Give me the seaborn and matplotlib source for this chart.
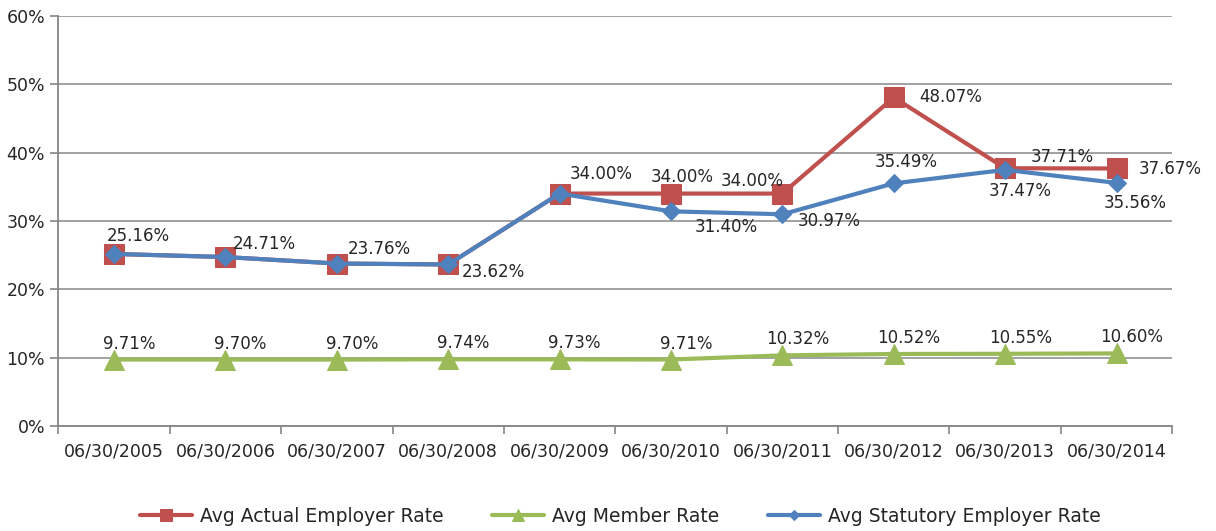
import numpy as np
import pandas as pd
import seaborn as sns
import matplotlib.pyplot as plt
from matplotlib.ticker import PercentFormatter, FixedLocator

sns.set_style("white")
plt.rcParams['font.family'] = ['DejaVu Sans']

dates = ["06/30/2005", "06/30/2006", "06/30/2007", "06/30/2008", "06/30/2009",
         "06/30/2010", "06/30/2011", "06/30/2012", "06/30/2013", "06/30/2014"]
actual = [25.16, 24.71, 23.76, 23.62, 34.00, 34.00, 34.00, 48.07, 37.71, 37.67]
member = [9.71, 9.70, 9.70, 9.74, 9.73, 9.71, 10.32, 10.52, 10.55, 10.60]
statutory = [25.16, 24.71, 23.76, 23.62, 34.00, 31.40, 30.97, 35.49, 37.47, 35.56]

# label offsets in pixels (None = label hidden because it overlaps)
actual_off = [(24, 18), (39, 13), (42, 15), (45, -8), (42, 20),
              (11, 17), (-30, 13), (57, 0), (57, 11), (54, -1)]
member_off = [(15, 16)] * 10
statutory_off = [None, None, None, None, None,
                 (55, -16), (47, -7), (12, 21), (15, -21), (19, -20)]

x = np.arange(len(dates))
df = pd.DataFrame({"x": x, "actual": actual, "member": member, "statutory": statutory})

fig = plt.figure(figsize=(12.16, 5.31), dpi=100)
ax = fig.add_axes([0.048, 0.198, 0.916, 0.772])

series = [
    ("actual", "Avg Actual Employer Rate", "#C0504D", "s", 14, actual_off),
    ("member", "Avg Member Rate", "#9BBB59", "^", 14, member_off),
    ("statutory", "Avg Statutory Employer Rate", "#4F81BD", "D", 9, statutory_off),
]
for col, name, color, mk, ms, offs in series:
    sns.lineplot(data=df, x="x", y=col, ax=ax, color=color, marker=mk, markersize=ms,
                 markeredgecolor=color, linewidth=3, label=name)
    for xi, v, off in zip(x, df[col], offs):
        if off is None:
            continue
        ax.annotate(f"{v:.2f}%", (xi, v), xytext=off, textcoords="offset pixels",
                    ha="center", va="center", fontsize=12, color="#262626")

ax.set_xlim(-0.5, len(dates) - 0.5)
ax.set_ylim(0, 60)
ax.yaxis.set_major_formatter(PercentFormatter(xmax=100, decimals=0))
ax.set_yticks(np.arange(0, 61, 10))
ax.set_xticks(x)
ax.set_xticklabels(dates)
ax.xaxis.set_minor_locator(FixedLocator(np.arange(-0.5, len(dates), 1)))
ax.tick_params(axis="x", which="major", length=0, pad=12, labelsize=12.5, colors="#262626")
ax.tick_params(axis="x", which="minor", length=6, width=1.2, color="#868686", bottom=True)
ax.tick_params(axis="y", length=6, width=1.2, color="#868686", labelsize=12.5,
               labelcolor="#262626", left=True)
ax.set_xlabel("")
ax.set_ylabel("")
ax.grid(axis="y", color="#9a9a9a", linewidth=1.3)
ax.set_axisbelow(True)
for s in ["top", "right"]:
    ax.spines[s].set_visible(False)
for s in ["left", "bottom"]:
    ax.spines[s].set_color("#868686")
    ax.spines[s].set_linewidth(1.3)

ax.legend(loc="center", bbox_to_anchor=(0.51, 0.028), bbox_transform=fig.transFigure,
          ncol=3, frameon=False, fontsize=13.5, markerscale=0.6, handlelength=2.8,
          handletextpad=0.4, columnspacing=2.6, labelcolor="#262626")

fig.savefig("out.png", dpi=100)
